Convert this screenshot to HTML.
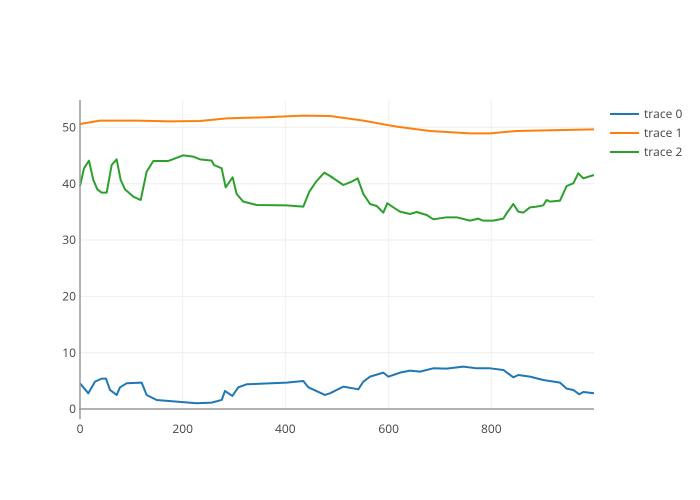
<!DOCTYPE html>
<html><head><meta charset="utf-8"><style>body{margin:0;background:#fff}svg{display:block;font-family:"Open Sans","Liberation Sans",sans-serif}</style></head><body>
<svg width="700" height="500" viewBox="0 0 700 500">
<g stroke="#eeeeee" stroke-width="1">
<line x1="182.7" y1="100" x2="182.7" y2="409"/><line x1="285.3" y1="100" x2="285.3" y2="409"/><line x1="388.7" y1="100" x2="388.7" y2="409"/><line x1="491.3" y1="100" x2="491.3" y2="409"/>
<line x1="80" y1="352.7" x2="594" y2="352.7"/><line x1="80" y1="296.4" x2="594" y2="296.4"/><line x1="80" y1="240" x2="594" y2="240"/><line x1="80" y1="183.7" x2="594" y2="183.7"/><line x1="80" y1="127.3" x2="594" y2="127.3"/>
</g>
<g fill="none" stroke-width="2" stroke-linejoin="round">
<g transform="translate(70,100) scale(0.3333)">
<polyline vector-effect="non-scaling-stroke" stroke="#ff7f0e" points="30,72 90,62 200,62 300,64 390,63 470,55 580,52 700,47 780,48"/>
<polyline vector-effect="non-scaling-stroke" stroke="#2ca02c" points="30,258 42,205 57,182 70,240 82,268 95,278 110,278 125,195 140,178 152,240 165,268 190,290 212,300 230,215 250,183 295,183 340,166 370,170 390,178 425,182 432,195 455,205 467,262 488,232 500,282 520,305 560,315 650,316 700,320 718,275 740,243 763,218 780,228 790,234"/>
<polyline vector-effect="non-scaling-stroke" stroke="#1f77b4" points="30,850 55,880 75,845 95,836 108,836 120,870 140,885 150,862 170,850 215,848 230,885 260,900 380,910 425,908 455,900 465,873 487,888 505,862 530,853 650,848 700,843 715,862 765,885 780,880"/>
</g>
<g transform="translate(330,100) scale(0.3333)">
<polyline vector-effect="non-scaling-stroke" stroke="#ff7f0e" points="0,48 100,62 200,80 300,93 420,100 480,100 560,93 700,90 792,88"/>
<polyline vector-effect="non-scaling-stroke" stroke="#2ca02c" points="0,228 40,255 65,245 83,235 100,282 120,312 140,318 160,338 172,310 190,322 210,335 240,342 260,336 290,345 310,358 350,352 380,352 420,362 445,356 460,362 490,362 520,356 530,340 550,312 565,335 580,338 600,322 620,320 640,316 650,300 660,305 690,302 710,258 730,250 745,220 760,235 792,225"/>
<polyline vector-effect="non-scaling-stroke" stroke="#1f77b4" points="0,880 40,860 85,868 100,845 120,830 160,818 175,830 210,818 240,812 270,815 310,805 350,806 400,800 440,805 480,805 520,810 550,832 565,825 600,830 640,840 690,848 710,866 730,870 748,883 760,876 792,880"/>
</g>
</g>
<g stroke="#999" stroke-width="1.5"><line x1="80" y1="100" x2="80" y2="419"/><line x1="79" y1="409" x2="594" y2="409"/></g>
<g fill="#444" font-size="12" text-anchor="end">
<text x="76" y="413">0</text><text x="76" y="357">10</text><text x="76" y="300.5">20</text><text x="76" y="244">30</text><text x="76" y="188">40</text><text x="76" y="131.5">50</text>
</g>
<g fill="#444" font-size="12" text-anchor="middle">
<text x="80" y="433">0</text><text x="182.7" y="433">200</text><text x="285.3" y="433">400</text><text x="388.7" y="433">600</text><text x="491.3" y="433">800</text>
</g>
<g stroke-width="2"><line x1="610" y1="114" x2="639" y2="114" stroke="#1f77b4"/><line x1="610" y1="133" x2="639" y2="133" stroke="#ff7f0e"/><line x1="610" y1="152" x2="639" y2="152" stroke="#2ca02c"/></g>
<g fill="#444" font-size="12"><text x="644" y="118">trace 0</text><text x="644" y="137">trace 1</text><text x="644" y="156">trace 2</text></g>
</svg>
</body></html>
